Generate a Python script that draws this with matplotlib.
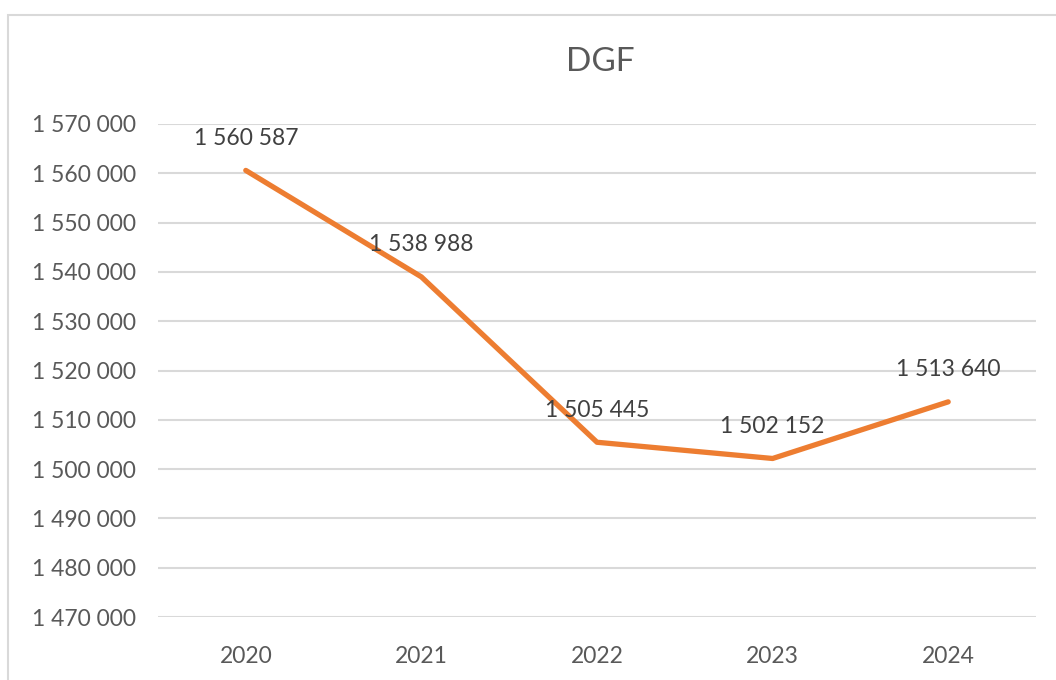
import matplotlib.pyplot as plt
from matplotlib.patches import Rectangle

years = ["2020", "2021", "2022", "2023", "2024"]
dgf = [1560587, 1538988, 1505445, 1502152, 1513640]

yticks = list(range(1470000, 1570001, 10000))

def fmt(v):
    return f"{v:,}".replace(",", " ")

plt.rcParams["font.family"] = ["Lato", "DejaVu Sans"]
grey = "#595959"

fig = plt.figure(figsize=(10.56, 6.8), dpi=100)
fig.patches.append(Rectangle((8 / 1056, -0.1), 1.2, 1 - 15 / 680 + 0.1,
                             transform=fig.transFigure, fill=False,
                             edgecolor="#d9d9d9", lw=1.5))

ax = fig.add_axes([158 / 1056, 1 - 617 / 680, 878 / 1056, (617 - 124) / 680])
x = list(range(len(years)))
ax.plot(x, dgf, color="#ED7D31", lw=3.8, solid_capstyle="round", zorder=3)
for xi, v in zip(x, dgf):
    ax.annotate(fmt(v), (xi, v), xytext=(0, 23), textcoords="offset points",
                ha="center", va="center", fontsize=16.5, color="#404040", zorder=4)

ax.set_xlim(-0.5, len(years) - 0.5)
ax.set_ylim(1470000, 1570000)
ax.set_xticks(x)
ax.set_xticklabels(years)
ax.set_yticks(yticks)
ax.set_yticklabels([fmt(t) for t in yticks])
ax.tick_params(length=0, labelsize=16.5, colors=grey)
ax.tick_params(axis="y", pad=16)
ax.tick_params(axis="x", pad=21)
ax.grid(axis="y", color="#d9d9d9", lw=1.5)
ax.set_axisbelow(True)
for s in ax.spines.values():
    s.set_visible(False)

fig.text(600 / 1056, 1 - 62 / 680, "DGF", ha="center", va="center",
         fontsize=24, color=grey)

plt.savefig("out.png", dpi=100)
